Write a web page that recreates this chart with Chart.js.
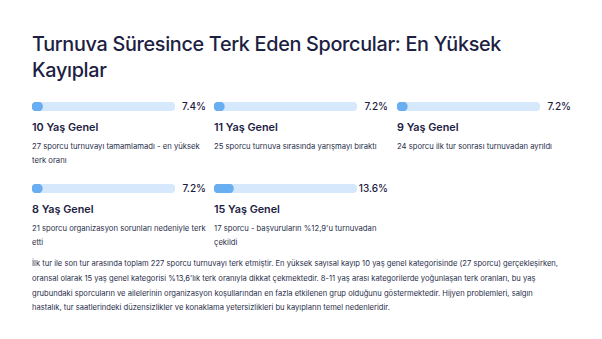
<!DOCTYPE html>
<html lang="tr">
<head>
<meta charset="utf-8">
<script src="https://cdn.jsdelivr.net/npm/chart.js@4.4.1/dist/chart.umd.min.js"></script>
<style>
  html, body { margin: 0; padding: 0; background: #fff; }
  body { width: 602px; height: 339px; position: relative; overflow: hidden; font-family: Inter, "Noto Sans", sans-serif; color: #1c2142; }
  h1 { position: absolute; left: 32px; top: 31px; margin: 0; width: 540px; font-size: 19.8px; line-height: 26px; font-weight: 500; letter-spacing: -0.3px; }
  .card { position: absolute; width: 178px; }
  .card canvas { display: block; }
  .pct { position: absolute; top: -1px; right: 4px; font-size: 10px; font-weight: 500; line-height: 14px; }
  .name { position: absolute; top: 21px; left: 0; font-size: 10.8px; font-weight: 600; line-height: 14px; white-space: nowrap; }
  .desc { position: absolute; top: 40px; left: 0; width: 178px; font-size: 7.7px; line-height: 14px; color: #2a2f4a; }
  .note { position: absolute; left: 32px; top: 257px; width: 560px; margin: 0; font-size: 7.6px; line-height: 14.8px; color: #2a2f4a; white-space: nowrap; }
</style>
</head>
<body>
<h1>Turnuva Süresince Terk Eden Sporcular: En Yüksek<br>Kayıplar</h1>
<div id="cards"></div>
<p class="note">İlk tur ile son tur arasında toplam 227 sporcu turnuvayı terk etmiştir. En yüksek sayısal kayıp 10 yaş genel kategorisinde (27 sporcu) gerçekleşirken,<br>oransal olarak 15 yaş genel kategorisi %13,6'lık terk oranıyla dikkat çekmektedir. 8-11 yaş arası kategorilerde yoğunlaşan terk oranları, bu yaş<br>grubundaki sporcuların ve ailelerinin organizasyon koşullarından en fazla etkilenen grup olduğunu göstermektedir. Hijyen problemleri, salgın<br>hastalık, tur saatlerindeki düzensizlikler ve konaklama yetersizlikleri bu kayıpların temel nedenleridir.</p>
<script>
const categories = ["10 Yaş Genel", "11 Yaş Genel", "9 Yaş Genel", "8 Yaş Genel", "15 Yaş Genel"];
const dropoutRates = [7.4, 7.2, 7.2, 7.2, 13.6];
const notes = [
  "27 sporcu turnuvayı tamamlamadı - en yüksek terk oranı",
  "25 sporcu turnuva sırasında yarışmayı bıraktı",
  "24 sporcu ilk tur sonrası turnuvadan ayrıldı",
  "21 sporcu organizasyon sorunları nedeniyle terk etti",
  "17 sporcu - başvuruların %12,9'u turnuvadan çekildi"
];

const colX = [32, 214, 397];
const rowY = [100, 182];
const wrap = document.getElementById("cards");

categories.forEach((name, i) => {
  const card = document.createElement("div");
  card.className = "card";
  card.style.left = colX[i % 3] + "px";
  card.style.top = rowY[Math.floor(i / 3)] + "px";
  card.innerHTML =
    '<canvas width="143" height="13"></canvas>' +
    '<span class="pct">' + dropoutRates[i].toFixed(1) + "%</span>" +
    '<div class="name">' + name + "</div>" +
    '<div class="desc">' + notes[i] + "</div>";
  wrap.appendChild(card);

  // track (100) behind, the rate bar drawn on top of it
  new Chart(card.querySelector("canvas"), {
    type: "bar",
    data: {
      labels: [name],
      datasets: [
        { data: [dropoutRates[i]], backgroundColor: "#6aaef2" },
        { data: [100], backgroundColor: "#d6e9fc" },
      ],
    },
    options: {
      indexAxis: "y",
      responsive: false,
      animation: false,
      events: [],
      layout: { padding: { top: 2, bottom: 2 } },
      datasets: {
        bar: { grouped: false, barPercentage: 1, categoryPercentage: 1, borderRadius: 10, borderSkipped: false },
      },
      scales: {
        x: { display: false, min: 0, max: 100 },
        y: { display: false },
      },
      plugins: { legend: { display: false }, tooltip: { enabled: false } },
    },
  });
});
</script>
</body>
</html>
